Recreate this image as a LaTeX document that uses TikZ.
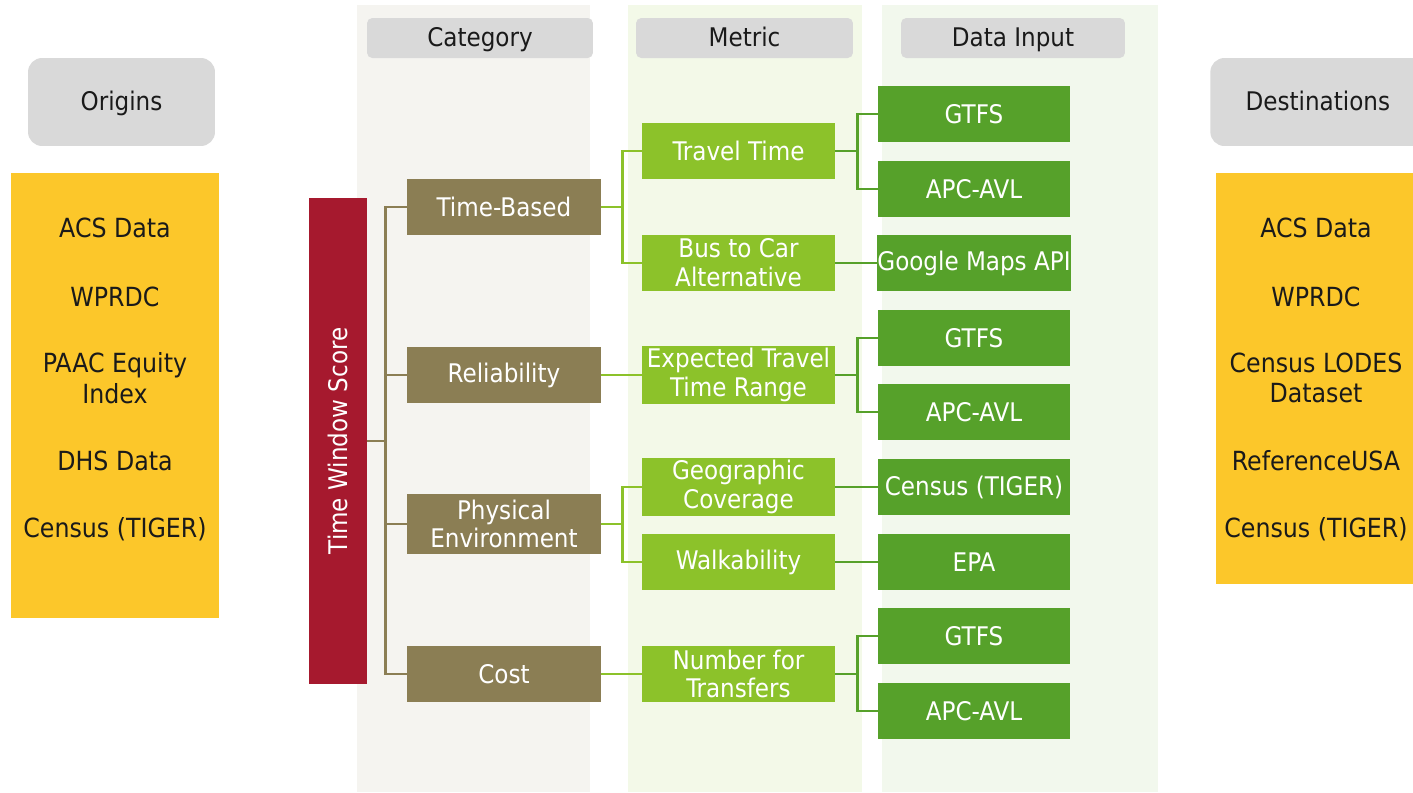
\documentclass[tikz,border=0pt]{standalone}
\usepackage{fontspec}
\setmainfont{DejaVu Sans Condensed}
\usepackage{tikz}
\usetikzlibrary{positioning}

\definecolor{catbg}{HTML}{F5F4F0}
\definecolor{metbg}{HTML}{F3F9E8}
\definecolor{datbg}{HTML}{F2F8ED}
\definecolor{headgray}{HTML}{D9D9D9}
\definecolor{srcyellow}{HTML}{FCC72A}
\definecolor{scorered}{HTML}{A6192E}
\definecolor{catolive}{HTML}{8B7E54}
\definecolor{metgreen}{HTML}{8CC22A}
\definecolor{datgreen}{HTML}{56A12A}
\definecolor{ink}{HTML}{1A1A1A}

\tikzset{
  boxfont/.style={font=\fontsize{14.6}{16.4}\selectfont},
  head/.style={fill=headgray, rounded corners=3pt, minimum height=0.8cm, text=ink,
    text height=12pt, text depth=2pt, font=\fontsize{14.6}{16}\selectfont},
  cat/.style={fill=catolive, text=white, minimum width=3.88cm, minimum height=1.12cm,
    align=center, boxfont},
  met/.style={fill=metgreen, text=white, minimum width=3.86cm, minimum height=1.12cm,
    align=center, inner sep=1pt, boxfont},
  dat/.style={fill=datgreen, text=white, minimum width=3.84cm, minimum height=1.12cm,
    inner sep=0pt, boxfont},
  src/.style={text=ink, align=center, font=\fontsize{15}{17.5}\selectfont},
  catline/.style={draw=catolive, line width=1.6pt},
  metline/.style={draw=metgreen, line width=1.6pt},
  datline/.style={draw=datgreen, line width=1.6pt}
}

\begin{document}
\begin{tikzpicture}[x=0.02cm, y=-0.02cm]
  \useasboundingbox (0,0) rectangle (1413,792);

  % column backgrounds
  \fill[catbg] (357,5) rectangle (590,792);
  \fill[metbg] (628,5) rectangle (862,792);
  \fill[datbg] (882,5) rectangle (1158,792);

  % column headers
  \node[head, minimum width=4.52cm] (hcat) at (480,38) {Category};
  \node[head, minimum width=4.34cm] (hmet) at (744.5,38) {Metric};
  \node[head, minimum width=4.48cm] (hdat) at (1013,38) {Data Input};

  % origins and destinations
  \node[head, rounded corners=8pt, minimum width=3.74cm, minimum height=1.76cm] (horig) at (121.5,102) {Origins};
  \node[head, rounded corners=8pt, minimum width=4.3cm, minimum height=1.76cm, anchor=west] (hdest) at (1210,102) {Destinations};
  \fill[srcyellow] (11,173) rectangle (219,618);
  \fill[srcyellow] (1216,173) rectangle (1413,584);
  \foreach \y/\txt [count=\i] in {228/ACS Data, 297/WPRDC, 378/PAAC Equity\\Index, 461/DHS Data, 529/Census (TIGER)}
    \node[src] (orig\i) at (115,\y) {\txt};
  \foreach \y/\txt [count=\i] in {228/ACS Data, 297/WPRDC, 378/Census LODES\\Dataset, 461/ReferenceUSA, 529/Census (TIGER)}
    \node[src] (dest\i) at (1316,\y) {\txt};

  % score
  \node[fill=scorered, text=white, rotate=90, minimum width=9.72cm, minimum height=1.16cm,
    boxfont] (tws) at (338,441) {Time Window Score};

  % categories
  \node[cat] (tb)   at (504,207) {Time-Based};
  \node[cat] (rel)  at (504,375) {Reliability};
  \node[cat] (phy)  at (504,524) {Physical\\Environment};
  \node[cat] (cost) at (504,674) {Cost};

  % metrics
  \node[met] (tt)   at (738.5,151) {Travel Time};
  \node[met] (bus)  at (738.5,263) {Bus to Car\\Alternative};
  \node[met] (ettr) at (738.5,375) {Expected Travel\\Time Range};
  \node[met] (geo)  at (738.5,487) {Geographic\\Coverage};
  \node[met] (walk) at (738.5,562) {Walkability};
  \node[met] (ntr)  at (738.5,674) {Number for\\Transfers};

  % data inputs
  \node[dat] (gtfsa) at (974,114) {GTFS};
  \node[dat] (apca)  at (974,189) {APC-AVL};
  \node[dat] (gmap)  at (974,263) {Google Maps API};
  \node[dat] (gtfsb) at (974,338) {GTFS};
  \node[dat] (apcb)  at (974,412) {APC-AVL};
  \node[dat] (tiger) at (974,487) {Census (TIGER)};
  \node[dat] (epa)   at (974,562) {EPA};
  \node[dat] (gtfsc) at (974,636) {GTFS};
  \node[dat] (apcc)  at (974,711) {APC-AVL};

  % score to categories
  \draw[catline] (tws.south) -- ++(18,0) coordinate (trunk);
  \foreach \c in {tb,rel,phy,cost}
    \draw[catline] (trunk) |- (\c.west);

  % categories to metrics
  \draw[metline] (tb.east) -- ++(21,0) coordinate (tbfork);
  \draw[metline] (tbfork) |- (tt.west);
  \draw[metline] (tbfork) |- (bus.west);
  \draw[metline] (rel) -- (ettr);
  \draw[metline] (phy.east) -- ++(21,0) coordinate (phyfork);
  \draw[metline] (phyfork) |- (geo.west);
  \draw[metline] (phyfork) |- (walk.west);
  \draw[metline] (cost) -- (ntr);

  % metrics to data inputs
  \draw[datline] (tt.east) -- ++(22,0) coordinate (ttfork);
  \draw[datline] (ttfork) |- (gtfsa.west);
  \draw[datline] (ttfork) |- (apca.west);
  \draw[datline] (bus) -- (gmap);
  \draw[datline] (ettr.east) -- ++(22,0) coordinate (ettrfork);
  \draw[datline] (ettrfork) |- (gtfsb.west);
  \draw[datline] (ettrfork) |- (apcb.west);
  \draw[datline] (geo) -- (tiger);
  \draw[datline] (walk) -- (epa);
  \draw[datline] (ntr.east) -- ++(22,0) coordinate (ntrfork);
  \draw[datline] (ntrfork) |- (gtfsc.west);
  \draw[datline] (ntrfork) |- (apcc.west);
\end{tikzpicture}
\end{document}
